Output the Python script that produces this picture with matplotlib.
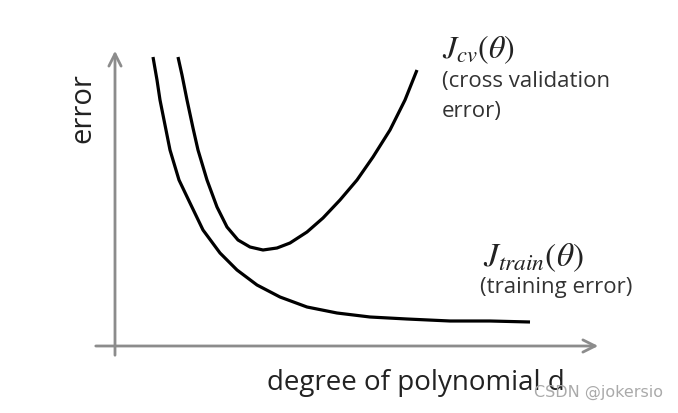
import matplotlib
matplotlib.use("Agg")
import matplotlib.pyplot as plt

plt.rcParams['mathtext.fontset'] = 'stix'

# curves (x = degree, y = error, origin at axis crossing)
train_x = [38, 42, 45, 50, 55, 64, 75, 88, 105, 122, 142, 165, 192, 222, 255, 292, 335, 375, 415]
train_y = [289, 266, 246, 221, 196, 166, 143, 116, 93, 76, 61, 49, 39, 33, 29, 27, 25, 25, 24]
cv_x = [63, 67, 72, 78, 83, 92, 102, 112, 123, 135, 148, 162, 175, 192, 208, 225, 242, 258, 275, 290, 302]
cv_y = [289, 271, 246, 218, 196, 166, 139, 119, 106, 99, 96, 98, 103, 114, 128, 146, 166, 189, 216, 246, 276]

xlabel = "degree of polynomial d"
ylabel = "error"

fig = plt.figure(figsize=(6.78, 4.13), dpi=100)
ax = fig.add_axes([0, 0, 1, 1])
ax.set_xlim(-115, 563)
ax.set_ylim(-67, 346)
ax.axis('off')

axis_col = '#8c8c8c'
ax.annotate('', xy=(486, 0), xytext=(-22, 0),
            arrowprops=dict(arrowstyle='->', color=axis_col, lw=2, mutation_scale=22))
ax.annotate('', xy=(0, 298), xytext=(0, -12),
            arrowprops=dict(arrowstyle='->', color=axis_col, lw=2, mutation_scale=22))

ax.plot(train_x, train_y, color='black', lw=2.3, solid_capstyle='butt', solid_joinstyle='round')
ax.plot(cv_x, cv_y, color='black', lw=2.3, solid_capstyle='butt', solid_joinstyle='round')

ax.text(-32, 238, ylabel, rotation=90, ha='center', va='center',
        fontsize=21, family='Open Sans', color='#222222')
ax.text(152, -37, xlabel, ha='left', va='center',
        fontsize=20, family='Open Sans', color='#222222')

ax.text(327, 296, r'$J_{cv}(\theta)$', fontsize=23, ha='left', va='center', color='#222222')
ax.text(327, 264, '(cross validation', fontsize=16, family='Open Sans',
        ha='left', va='center', color='#333333')
ax.text(327, 234, 'error)', fontsize=16, family='Open Sans',
        ha='left', va='center', color='#333333')

ax.text(368, 88, r'$J_{train}(\theta)$', fontsize=24, ha='left', va='center', color='#222222')
ax.text(365, 58, '(training error)', fontsize=16, family='Open Sans',
        ha='left', va='center', color='#333333')

ax.text(548, -46, 'CSDN @jokersio', fontsize=11.5, family='DejaVu Sans',
        ha='right', va='center', color='#aaaaaa')

fig.savefig('out.png', dpi=100)
